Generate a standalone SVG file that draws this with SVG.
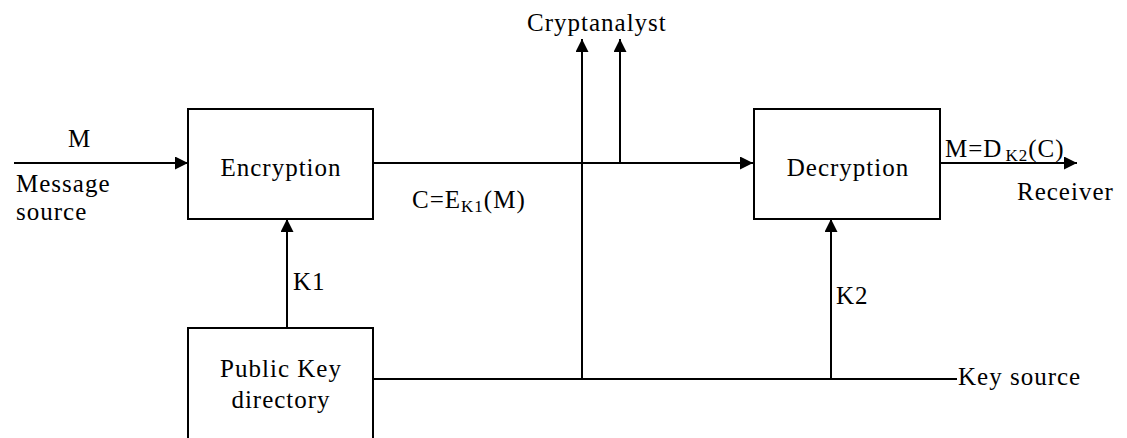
<svg xmlns="http://www.w3.org/2000/svg" width="1127" height="438" viewBox="0 0 1127 438">
<style>
.box{fill:#fff;stroke:#000;stroke-width:2}
.ln{fill:none;stroke:#000;stroke-width:2}
text{font-family:'Liberation Serif','DejaVu Serif','Times New Roman',serif;font-size:25px;letter-spacing:1px;fill:#000}
.c{text-anchor:middle}
</style>
<defs>
<marker id="ah" markerUnits="userSpaceOnUse" markerWidth="14" markerHeight="14" refX="13" refY="6.5" orient="auto">
<path d="M0,0 L13,6.5 L0,13 Z" fill="#000"/>
</marker>
</defs>
<g id="connectors">
<line class="ln" x1="14" y1="163" x2="188" y2="163" marker-end="url(#ah)"/>
<line class="ln" x1="373" y1="163" x2="753" y2="163" marker-end="url(#ah)"/>
<line class="ln" x1="940" y1="163" x2="1077" y2="163" marker-end="url(#ah)"/>
<line class="ln" x1="582" y1="379" x2="582" y2="39" marker-end="url(#ah)"/>
<line class="ln" x1="620" y1="163" x2="620" y2="39" marker-end="url(#ah)"/>
<line class="ln" x1="287" y1="328" x2="287" y2="219" marker-end="url(#ah)"/>
<line class="ln" x1="831" y1="379" x2="831" y2="219" marker-end="url(#ah)"/>
<line class="ln" x1="373" y1="379" x2="957" y2="379"/>
</g>
<g id="encryption">
<rect class="box" x="188" y="109" width="185" height="110"/>
<text class="c" x="281" y="176" font-family="Liberation Serif, serif">Encryption</text>
</g>
<g id="decryption">
<rect class="box" x="754" y="109" width="186" height="110"/>
<text class="c" x="848" y="176" font-family="Liberation Serif, serif">Decryption</text>
</g>
<g id="public-key-directory">
<rect class="box" x="188" y="328" width="185" height="130"/>
<text class="c" x="281" y="377" font-family="Liberation Serif, serif">Public Key</text>
<text class="c" x="281" y="408" font-family="Liberation Serif, serif">directory</text>
</g>
<g id="labels" font-family="Liberation Serif, serif">
<text x="68" y="147">M</text>
<text x="16" y="192">Message</text>
<text x="16" y="220">source</text>
<text x="527" y="31">Cryptanalyst</text>
<text x="412" y="208">C=E<tspan font-size="17" dy="4">K1</tspan><tspan dy="-4">(M)</tspan></text>
<text x="945" y="157">M=D<tspan font-size="17" dy="4" dx="3">K2</tspan><tspan dy="-4">(C)</tspan></text>
<text x="1017" y="200">Receiver</text>
<text x="293" y="290">K1</text>
<text x="836" y="304">K2</text>
<text x="958" y="385">Key source</text>
</g>
</svg>
